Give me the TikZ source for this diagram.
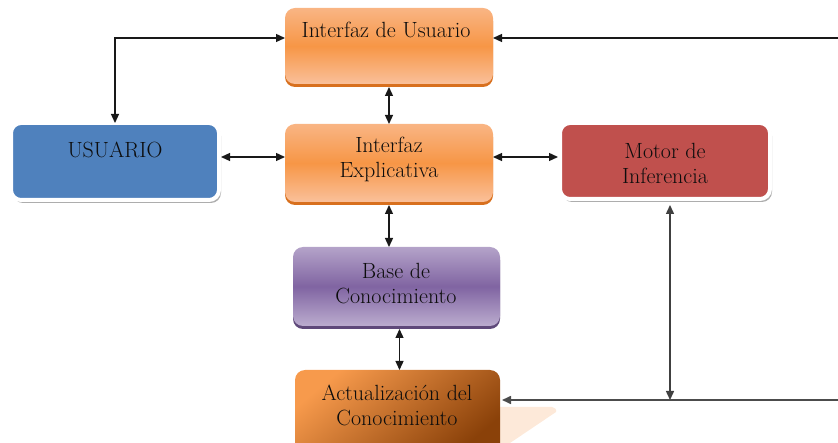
\documentclass[tikz,border=0pt]{standalone}
\usetikzlibrary{arrows.meta,shadows}
\definecolor{orTop}{HTML}{F9B584}
\definecolor{orMid}{HTML}{F79646}
\definecolor{orBot}{HTML}{FAC09A}
\definecolor{orShadow}{HTML}{D8701E}
\definecolor{puTop}{HTML}{B4A3C9}
\definecolor{puMid}{HTML}{8064A2}
\definecolor{puShadow}{HTML}{5F497A}
\definecolor{blueBox}{HTML}{4F81BD}
\definecolor{redBox}{HTML}{C0504D}
\definecolor{acLight}{HTML}{F79A4C}
\definecolor{acDark}{HTML}{8A4109}
\definecolor{peach}{HTML}{FDE9D9}
\definecolor{txt}{HTML}{0D0D0D}
\begin{document}
\begin{tikzpicture}[x=1pt,y=-1pt,
  box/.style={rectangle, rounded corners=10pt, inner sep=0pt, outer sep=0pt},
  orangebox/.style={box, top color=orTop, bottom color=orBot, middle color=orMid,
     drop shadow={shadow xshift=0pt, shadow yshift=-3pt, fill=orShadow, opacity=1}},
  purplebox/.style={box, top color=puTop, bottom color=puTop!90!white, middle color=puMid,
     drop shadow={shadow xshift=0pt, shadow yshift=-3pt, fill=puShadow, opacity=1}},
  framedbox/.style={box, draw=white, line width=4pt,
     drop shadow={shadow xshift=2pt, shadow yshift=-3pt, fill=black!40, opacity=0.8}},
  lbl/.style={font=\fontsize{22}{25}\selectfont, align=center, text=txt, inner sep=0pt},
  conn/.style={line width=1.3pt, draw=black!90},
  both/.style={conn, {Triangle[length=9pt,width=8pt]}-{Triangle[length=9pt,width=8pt]}},
  into/.style={conn, -{Triangle[length=9pt,width=8pt]}}
]
\useasboundingbox (0,0) rectangle (838,443);
\clip (0,0) rectangle (838,443);

% faint reflection shape
\fill[peach] (500,407) -- (552,407) to[out=0,in=60] (556,412) -- (510,443) -- (500,443) -- cycle;

% boxes
\node[orangebox, minimum width=208pt, minimum height=76pt] (iu) at (389,46) {};
\node[orangebox, minimum width=208pt, minimum height=78pt] (ie) at (389,163) {};
\node[framedbox, fill=blueBox, minimum width=208pt, minimum height=77pt] (us) at (115,161.5) {};
\node[framedbox, fill=redBox, minimum width=210pt, minimum height=76pt] (mi) at (665,161) {};
\node[purplebox, minimum width=207pt, minimum height=79pt] (bc) at (396.5,286.5) {};
\node[box, top color=acLight, bottom color=acDark, shading angle=40, minimum width=205pt, minimum height=84pt] (ac) at (397.5,412) {};

% labels
\node[lbl] (tiu) at (386,30) {Interfaz de Usuario};
\node[lbl] (tie) at (389,159) {Interfaz\\Explicativa};
\node[lbl] (tus) at (115,150) {USUARIO};
\node[lbl] (tmi) at (665,163) {Motor de\\Inferencia};
\node[lbl] (tbc) at (396,284) {Base de\\Conocimiento};
\node[lbl] (tac) at (397,405) {Actualización del\\Conocimiento};

% connectors
\coordinate (r1) at (838,38);
\coordinate (r2) at (838,400);
\coordinate (j) at (670,400);
\coordinate (h) at (0,157);

\draw[both] (us.north) |- ([yshift=8pt]iu.west);
\draw[into] (r1) -- (iu.east |- r1);
\draw[both] ([yshift=-3pt]iu.south) -- (ie.north);
\draw[both] ([xshift=2pt]us.east |- h) -- (ie.west |- h);
\draw[both] (ie.east |- h) -- ([xshift=-2pt]mi.west |- h);
\draw[both] ([yshift=-3pt]ie.south) -- (ie.south |- bc.north);
\draw[both] ([shift={(3pt,-3pt)}]bc.south) -- ([xshift=3pt]bc.south |- ac.north);
\draw[both, draw=black!75, line width=1.4pt] ([yshift=-6pt]j |- mi.south) -- (j);
\draw[into, draw=black!70, line width=1.6pt] (r2) -- ([xshift=2pt]ac.east |- r2);
\end{tikzpicture}
\end{document}
